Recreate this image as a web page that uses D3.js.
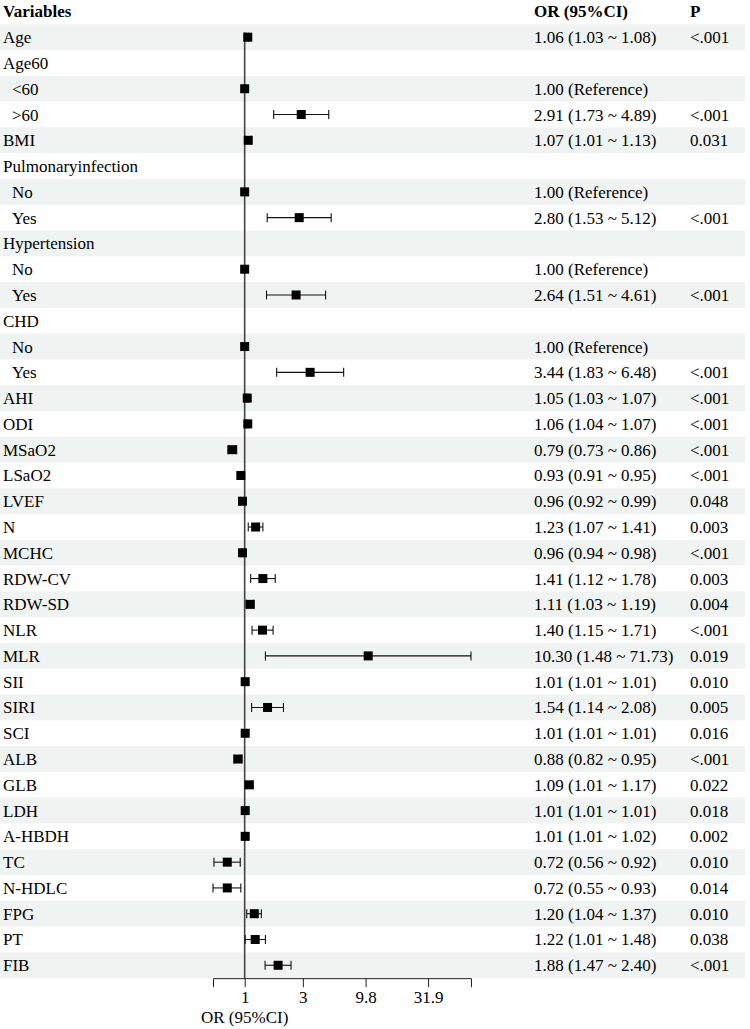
<!DOCTYPE html>
<html>
<head>
<meta charset="utf-8">
<script src="https://cdn.jsdelivr.net/npm/d3@7"></script>
<style>
  html, body { margin: 0; padding: 0; background: #fff; }
  svg text { font-family: "Liberation Serif", "Times New Roman", serif; }
</style>
</head>
<body>
<svg id="chart" width="750" height="1029"></svg>
<script>
// Rows of the forest plot, top to bottom
const variables = ["Age", "Age60", "<60", ">60", "BMI", "Pulmonaryinfection", "No", "Yes",
  "Hypertension", "No", "Yes", "CHD", "No", "Yes", "AHI", "ODI", "MSaO2", "LSaO2", "LVEF",
  "N", "MCHC", "RDW-CV", "RDW-SD", "NLR", "MLR", "SII", "SIRI", "SCI", "ALB", "GLB", "LDH",
  "A-HBDH", "TC", "N-HDLC", "FPG", "PT", "FIB"];
// 1 = sub-level (indented)
const levels = [0, 0, 1, 1, 0, 0, 1, 1, 0, 1, 1, 0, 1, 1, 0, 0, 0, 0, 0,
  0, 0, 0, 0, 0, 0, 0, 0, 0, 0, 0, 0, 0, 0, 0, 0, 0, 0];
const orValues = [1.06, null, 1.00, 2.91, 1.07, null, 1.00, 2.80, null, 1.00, 2.64, null, 1.00, 3.44,
  1.05, 1.06, 0.79, 0.93, 0.96, 1.23, 0.96, 1.41, 1.11, 1.40, 10.30, 1.01, 1.54, 1.01, 0.88,
  1.09, 1.01, 1.01, 0.72, 0.72, 1.20, 1.22, 1.88];
const ciLow = [1.03, null, 1.00, 1.73, 1.01, null, 1.00, 1.53, null, 1.00, 1.51, null, 1.00, 1.83,
  1.03, 1.04, 0.73, 0.91, 0.92, 1.07, 0.94, 1.12, 1.03, 1.15, 1.48, 1.01, 1.14, 1.01, 0.82,
  1.01, 1.01, 1.01, 0.56, 0.55, 1.04, 1.01, 1.47];
const ciHigh = [1.08, null, 1.00, 4.89, 1.13, null, 1.00, 5.12, null, 1.00, 4.61, null, 1.00, 6.48,
  1.07, 1.07, 0.86, 0.95, 0.99, 1.41, 0.98, 1.78, 1.19, 1.71, 71.73, 1.01, 2.08, 1.01, 0.95,
  1.17, 1.01, 1.02, 0.92, 0.93, 1.37, 1.48, 2.40];
const orLabels = ["1.06 (1.03 ~ 1.08)", "", "1.00 (Reference)", "2.91 (1.73 ~ 4.89)", "1.07 (1.01 ~ 1.13)",
  "", "1.00 (Reference)", "2.80 (1.53 ~ 5.12)", "", "1.00 (Reference)", "2.64 (1.51 ~ 4.61)", "",
  "1.00 (Reference)", "3.44 (1.83 ~ 6.48)", "1.05 (1.03 ~ 1.07)", "1.06 (1.04 ~ 1.07)",
  "0.79 (0.73 ~ 0.86)", "0.93 (0.91 ~ 0.95)", "0.96 (0.92 ~ 0.99)", "1.23 (1.07 ~ 1.41)",
  "0.96 (0.94 ~ 0.98)", "1.41 (1.12 ~ 1.78)", "1.11 (1.03 ~ 1.19)", "1.40 (1.15 ~ 1.71)",
  "10.30 (1.48 ~ 71.73)", "1.01 (1.01 ~ 1.01)", "1.54 (1.14 ~ 2.08)", "1.01 (1.01 ~ 1.01)",
  "0.88 (0.82 ~ 0.95)", "1.09 (1.01 ~ 1.17)", "1.01 (1.01 ~ 1.01)", "1.01 (1.01 ~ 1.02)",
  "0.72 (0.56 ~ 0.92)", "0.72 (0.55 ~ 0.93)", "1.20 (1.04 ~ 1.37)", "1.22 (1.01 ~ 1.48)",
  "1.88 (1.47 ~ 2.40)"];
const pLabels = ["<.001", "", "", "<.001", "0.031", "", "", "<.001", "", "", "<.001", "", "", "<.001",
  "<.001", "<.001", "<.001", "<.001", "0.048", "0.003", "<.001", "0.003", "0.004", "<.001", "0.019",
  "0.010", "0.005", "0.016", "<.001", "0.022", "0.018", "0.002", "0.010", "0.014", "0.010", "0.038",
  "<.001"];
const xTicks = [1, 3, 9.8, 31.9];
const xDomain = [0.55, 71.73];

const svg = d3.select("#chart");
const fontSize = 17;
const rowTop = 24.3, rowH = 25.78;
const colVar = 3, colIndent = 12, colOR = 534, colP = 690;

const rows = variables.map((v, i) => ({
  name: v, level: levels[i], or: orValues[i], lo: ciLow[i], hi: ciHigh[i],
  orText: orLabels[i], pText: pLabels[i], i
}));

const y = d3.scaleBand()
  .domain(rows.map(d => d.i))
  .range([rowTop, rowTop + rows.length * rowH])
  .padding(0);

const x = d3.scaleLog()
  .domain(xDomain)
  .range([213, 471]);

// Alternating row shading
svg.append("g")
  .selectAll("rect")
  .data(rows.filter(d => d.i % 2 === 0))
  .join("rect")
  .attr("x", 0)
  .attr("y", d => y(d.i))
  .attr("width", 745)
  .attr("height", y.bandwidth())
  .attr("fill", "#eff3f2");

// Header
const header = svg.append("g")
  .style("font-size", fontSize + "px")
  .style("font-weight", "bold");
header.append("text").attr("x", colVar).attr("y", 17).text("Variables");
header.append("text").attr("x", colOR).attr("y", 17).text("OR (95%CI)");
header.append("text").attr("x", colP).attr("y", 17).text("P");

// Text columns
const textRows = svg.append("g").style("font-size", fontSize + "px").attr("fill", "#000");
textRows.selectAll(".var")
  .data(rows)
  .join("text")
  .attr("class", "var")
  .attr("x", d => d.level ? colIndent : colVar)
  .attr("y", d => y(d.i) + y.bandwidth() / 2 + 6)
  .text(d => d.name);
textRows.selectAll(".ort")
  .data(rows)
  .join("text")
  .attr("class", "ort")
  .attr("x", colOR)
  .attr("y", d => y(d.i) + y.bandwidth() / 2 + 6)
  .text(d => d.orText);
textRows.selectAll(".pt")
  .data(rows)
  .join("text")
  .attr("class", "pt")
  .attr("x", colP)
  .attr("y", d => y(d.i) + y.bandwidth() / 2 + 6)
  .text(d => d.pText);

// Reference line at OR = 1
const axisY = y.range()[1];
svg.append("line")
  .attr("x1", x(1)).attr("x2", x(1))
  .attr("y1", y(0) + 8)
  .attr("y2", axisY)
  .attr("stroke", "#444")
  .attr("stroke-width", 1.6);

// CI whiskers and boxes
const est = rows.filter(d => d.or != null);
const marks = svg.append("g");
const capH = 4.5, box = 9;
const ciRows = est.filter(d => d.lo !== d.hi);
marks.selectAll(".ci")
  .data(ciRows)
  .join("line")
  .attr("x1", d => x(d.lo)).attr("x2", d => x(d.hi))
  .attr("y1", d => y(d.i) + y.bandwidth() / 2)
  .attr("y2", d => y(d.i) + y.bandwidth() / 2)
  .attr("stroke", "#111").attr("stroke-width", 1.1);
["lo", "hi"].forEach(k => {
  marks.selectAll(".cap-" + k)
    .data(ciRows)
    .join("line")
    .attr("x1", d => x(d[k])).attr("x2", d => x(d[k]))
    .attr("y1", d => y(d.i) + y.bandwidth() / 2 - capH)
    .attr("y2", d => y(d.i) + y.bandwidth() / 2 + capH)
    .attr("stroke", "#111").attr("stroke-width", 1.1);
});
marks.selectAll("rect")
  .data(est)
  .join("rect")
  .attr("x", d => x(d.or) - box / 2)
  .attr("y", d => y(d.i) + y.bandwidth() / 2 - box / 2)
  .attr("width", box).attr("height", box)
  .attr("fill", "#000");

// X axis
const axis = svg.append("g")
  .attr("transform", `translate(0,${axisY})`)
  .call(d3.axisBottom(x).tickValues(xTicks).tickFormat(d => d).tickSize(9).tickPadding(4));
axis.select(".domain").attr("stroke", "#222").attr("stroke-width", 1);
axis.selectAll(".tick line").attr("stroke", "#222");
axis.selectAll("text")
  .style("font-family", "Liberation Serif, serif")
  .style("font-size", fontSize + "px")
  .attr("fill", "#000");

svg.append("text")
  .attr("x", x(1))
  .attr("y", 1023)
  .attr("text-anchor", "middle")
  .style("font-size", fontSize + "px")
  .text("OR (95%CI)");
</script>
</body>
</html>
